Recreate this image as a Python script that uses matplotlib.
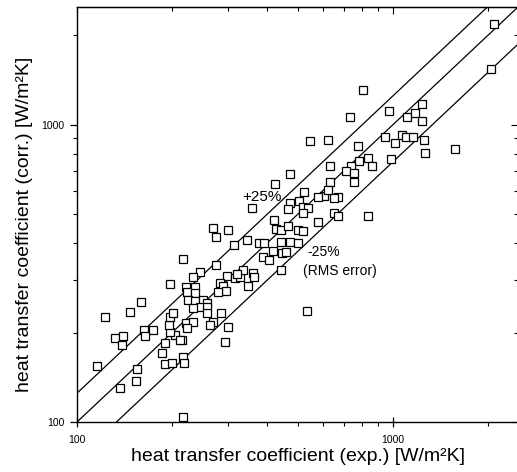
"""Correlated vs. experimental heat transfer coefficient, log-log parity plot."""
import matplotlib

matplotlib.use("Agg")
import matplotlib.pyplot as plt
from matplotlib.ticker import FixedLocator, FuncFormatter, LogLocator, NullFormatter

plt.rcParams["font.family"] = ["Liberation Sans", "DejaVu Sans"]

# ------------------ DATA ------------------ #
H_EXP = [
    2090, 2050, 803, 731, 972, 1236, 1108, 1175, 1236, 943,
    1015, 1068, 1099, 1158, 1254, 1263, 1573, 986, 545, 622,
    774, 471, 422, 631, 832, 857, 779, 736, 709, 752,
    752, 631, 525, 604, 622, 669, 650, 578, 471, 506,
    521, 540, 467, 650, 669, 578, 832, 359, 419, 428,
    444, 467, 499, 521, 521, 270, 276, 301, 313, 346,
    378, 392, 441, 474, 416, 389, 404, 447, 460, 499,
    441, 276, 246, 233, 217, 299, 317, 329, 336, 322,
    362, 364, 349, 284, 290, 297, 280, 221, 237, 223,
    237, 225, 237, 250, 258, 246, 258, 233, 258, 286,
    221, 233, 270, 264, 223, 301, 295, 215, 197, 159,
    147, 123, 163, 174, 164, 132, 140, 139, 116, 155,
    154, 137, 217, 190, 200, 217, 218, 186, 190, 204,
    212, 197, 196, 197, 201, 533,
]
H_CORR = [
    2190, 1545, 1312, 1064, 1115, 1177, 1064, 1098, 1032, 911,
    869, 925, 911, 911, 890, 805, 830, 768, 883, 890,
    850, 683, 633, 727, 774, 727, 756, 727, 700, 689,
    643, 643, 595, 576, 604, 572, 568, 572, 546, 555,
    529, 525, 521, 505, 494, 471, 494, 525, 479, 446,
    443, 457, 443, 440, 505, 450, 420, 443, 394, 410,
    400, 400, 404, 404, 376, 359, 351, 370, 373, 400,
    325, 338, 320, 308, 354, 311, 306, 308, 325, 315,
    318, 308, 287, 294, 287, 276, 274, 285, 285, 274,
    272, 257, 255, 257, 251, 243, 243, 242, 232, 232,
    216, 217, 217, 212, 207, 209, 186, 189, 292, 253,
    234, 225, 204, 204, 195, 192, 194, 182, 154, 151,
    137, 130, 104, 157, 158, 165, 158, 171, 185, 196,
    189, 201, 212, 226, 233, 236,
]

LINE_X = [100, 2490]
BAND_FACTORS = [1.25, 1.0, 0.75]  # +25 %, parity, -25 %
AX_MIN, AX_MAX = 100, 2490
MAJOR = [100, 1000]
# ---------------- END DATA ---------------- #


def log_ticks(axis, labels=True):
    """Majors at the decades only, unlabeled minors in between."""
    axis.set_major_locator(FixedLocator(MAJOR))
    if labels:
        axis.set_major_formatter(FuncFormatter(lambda v, _: f"{v:.0f}"))
    else:
        axis.set_major_formatter(NullFormatter())
    axis.set_minor_locator(LogLocator(base=10, subs=range(2, 10)))
    axis.set_minor_formatter(NullFormatter())


def main():
    fig = plt.figure(figsize=(5.17, 4.72), dpi=100)
    ax = fig.add_axes([77 / 517, 50 / 472, 441 / 517, 415 / 472])
    ax.set_xscale("log")
    ax.set_yscale("log")

    for f in BAND_FACTORS:
        ax.plot(LINE_X, [v * f for v in LINE_X], color="black", lw=0.9)

    ax.plot(
        H_EXP, H_CORR, linestyle="none", marker="s", markersize=5.2,
        markerfacecolor="white", markeredgecolor="black", markeredgewidth=0.9,
    )

    ax.set_xlim(AX_MIN, AX_MAX)
    ax.set_ylim(AX_MIN, AX_MAX)

    log_ticks(ax.xaxis)
    log_ticks(ax.yaxis)
    ax.tick_params(axis="both", which="major", labelsize=7.5, width=0.9, length=5)
    ax.tick_params(axis="both", which="minor", width=0.8, length=3)
    ax.tick_params(axis="x", which="major", direction="inout", length=7, pad=6)
    ax.tick_params(axis="x", which="minor", direction="out")
    ax.tick_params(axis="y", which="both", direction="out", pad=4)

    # top and right: ticks pointing inward, no labels
    top = ax.secondary_xaxis("top")
    log_ticks(top.xaxis, labels=False)
    top.tick_params(which="both", direction="in", width=0.8)
    top.tick_params(which="major", length=5)
    top.tick_params(which="minor", length=3)
    right = ax.secondary_yaxis("right")
    log_ticks(right.yaxis, labels=False)
    right.tick_params(which="both", direction="in", width=0.8)
    right.tick_params(which="major", length=5)
    right.tick_params(which="minor", length=3)

    for s in ax.spines.values():
        s.set_linewidth(1.0)

    ax.set_xlabel("heat transfer coefficient (exp.) [W/m²K]", fontsize=14)
    ax.set_ylabel("heat transfer coefficient (corr.) [W/m²K]", fontsize=14)
    ax.xaxis.set_label_coords(0.502, -0.062)
    ax.yaxis.set_label_coords(-0.100, 0.475)

    ax.text(333, 572, "+25%", fontsize=11, va="center")
    ax.text(538, 373, "-25%", fontsize=10, va="center")
    ax.text(519, 322, "(RMS error)", fontsize=10, va="center")

    fig.savefig("out.png", dpi=100)


if __name__ == "__main__":
    main()
